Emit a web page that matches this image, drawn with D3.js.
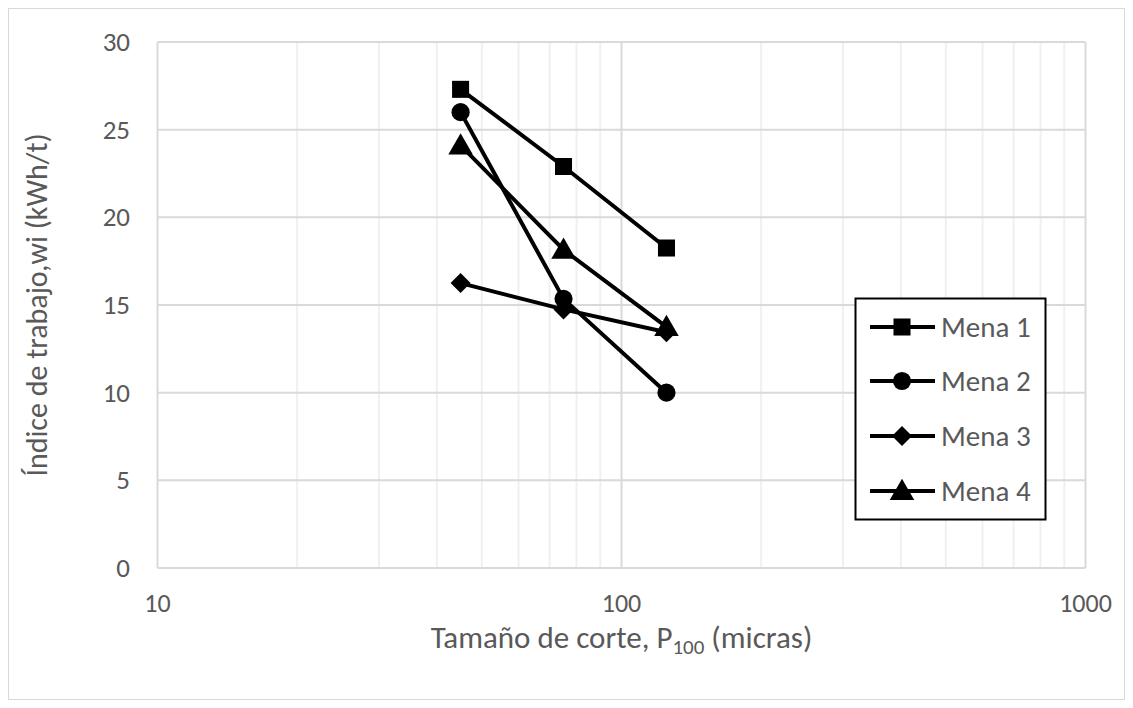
<!DOCTYPE html>
<html>
<head>
<meta charset="utf-8">
<script src="https://cdn.jsdelivr.net/npm/d3@7"></script>
<style>
body { margin: 0; background: #fff; }
text { font-family: Carlito, Calibri, "Open Sans", sans-serif; }
</style>
</head>
<body>
<svg id="chart" width="1133" height="708"></svg>
<script>
var sizes = [45, 75, 125];
var seriesNames = ["Mena 1", "Mena 2", "Mena 3", "Mena 4"];
var mena1 = [27.3, 22.9, 18.25];
var mena2 = [26.0, 15.35, 10.0];
var mena3 = [16.25, 14.75, 13.45];
var mena4 = [24.1, 18.15, 13.75];
var markers = ["square", "circle", "diamond", "triangle"];
var xTicks = [10, 100, 1000];
var yTicks = [0, 5, 10, 15, 20, 25, 30];

var svg = d3.select("#chart");
var plotL = 157.5, plotR = 1085.5, plotT = 42, plotB = 568;

var x = d3.scaleLog().domain([10, 1000]).range([plotL, plotR]);
var y = d3.scaleLinear().domain([0, 30]).range([plotB, plotT]);

// outer border
svg.append("rect").attr("x", 8.5).attr("y", 8.5).attr("width", 1116).attr("height", 691)
    .attr("fill", "none").attr("stroke", "#d9d9d9");

// minor vertical gridlines
var minor = [];
[10, 100].forEach(function (d) {
    for (var k = 2; k <= 9; k++) minor.push(d * k);
});
svg.selectAll("line.minor").data(minor).enter().append("line").attr("class", "minor")
    .attr("x1", function (d) { return x(d); }).attr("x2", function (d) { return x(d); })
    .attr("y1", plotT).attr("y2", plotB)
    .attr("stroke", "#f0f0f0").attr("stroke-width", 2);

// major gridlines
svg.selectAll("line.hgrid").data(yTicks).enter().append("line").attr("class", "hgrid")
    .attr("x1", plotL).attr("x2", plotR)
    .attr("y1", function (d) { return y(d); }).attr("y2", function (d) { return y(d); })
    .attr("stroke", "#d9d9d9").attr("stroke-width", 2);
svg.selectAll("line.vgrid").data(xTicks).enter().append("line").attr("class", "vgrid")
    .attr("x1", function (d) { return x(d); }).attr("x2", function (d) { return x(d); })
    .attr("y1", plotT).attr("y2", plotB)
    .attr("stroke", "#d9d9d9").attr("stroke-width", 2);

// tick labels
svg.selectAll("text.ylab").data(yTicks).enter().append("text").attr("class", "ylab")
    .attr("x", 130).attr("y", function (d) { return y(d) + 9; })
    .attr("text-anchor", "end").attr("font-size", 27).attr("fill", "#595959")
    .text(function (d) { return d; });
svg.selectAll("text.xlab").data(xTicks).enter().append("text").attr("class", "xlab")
    .attr("x", function (d) { return x(d); }).attr("y", 612)
    .attr("text-anchor", "middle").attr("font-size", 26).attr("fill", "#595959")
    .text(function (d) { return d; });

// axis titles
svg.append("text").attr("transform", "translate(47," + ((plotT + plotB) / 2) + ") rotate(-90)")
    .attr("text-anchor", "middle").attr("font-size", 30).attr("fill", "#595959")
    .text("Índice de trabajo,wi (kWh/t)");
var xt = svg.append("text").attr("x", (plotL + plotR) / 2).attr("y", 648)
    .attr("text-anchor", "middle").attr("font-size", 31).attr("fill", "#595959");
xt.append("tspan").text("Tamaño de corte, P");
xt.append("tspan").attr("font-size", 21).attr("dy", 6).text("100");
xt.append("tspan").attr("dy", -6).text(" (micras)");

var symbolTypes = {
    square: d3.symbol().type(d3.symbolSquare).size(290),
    circle: d3.symbol().type(d3.symbolCircle).size(260),
    diamond: d3.symbol().type(d3.symbolSquare).size(200),
    triangle: d3.symbol().type(d3.symbolTriangle).size(260)
};

var allSeries = [mena1, mena2, mena3, mena4];
var line = d3.line().x(function (d, i) { return x(sizes[i]); }).y(function (d) { return y(d); });

allSeries.forEach(function (vals, si) {
    svg.append("path").attr("d", line(vals)).attr("fill", "none")
        .attr("stroke", "#000").attr("stroke-width", 4);
});

function markerTransform(type, px, py) {
    if (type === "diamond") return "translate(" + px + "," + py + ") rotate(45)";
    if (type === "triangle") return "translate(" + px + "," + (py + 2) + ")";
    return "translate(" + px + "," + py + ")";
}

allSeries.forEach(function (vals, si) {
    svg.selectAll("path.m" + si).data(vals).enter().append("path").attr("class", "m" + si)
        .attr("d", symbolTypes[markers[si]])
        .attr("transform", function (d, i) { return markerTransform(markers[si], x(sizes[i]), y(d)); })
        .attr("fill", "#000");
});

// legend
var lg = svg.append("g");
lg.append("rect").attr("x", 855.5).attr("y", 298.5).attr("width", 190).attr("height", 221)
    .attr("fill", "#fff").attr("stroke", "#000").attr("stroke-width", 2);
var ly = [327, 381, 436, 491];
seriesNames.forEach(function (name, i) {
    lg.append("line").attr("x1", 870).attr("x2", 935).attr("y1", ly[i]).attr("y2", ly[i])
        .attr("stroke", "#000").attr("stroke-width", 4);
    lg.append("path").attr("d", symbolTypes[markers[i]])
        .attr("transform", markerTransform(markers[i], 902, ly[i]))
        .attr("fill", "#000");
    lg.append("text").attr("x", 941).attr("y", ly[i] + 10).attr("font-size", 29)
        .attr("fill", "#595959").text(name);
});
</script>
</body>
</html>
